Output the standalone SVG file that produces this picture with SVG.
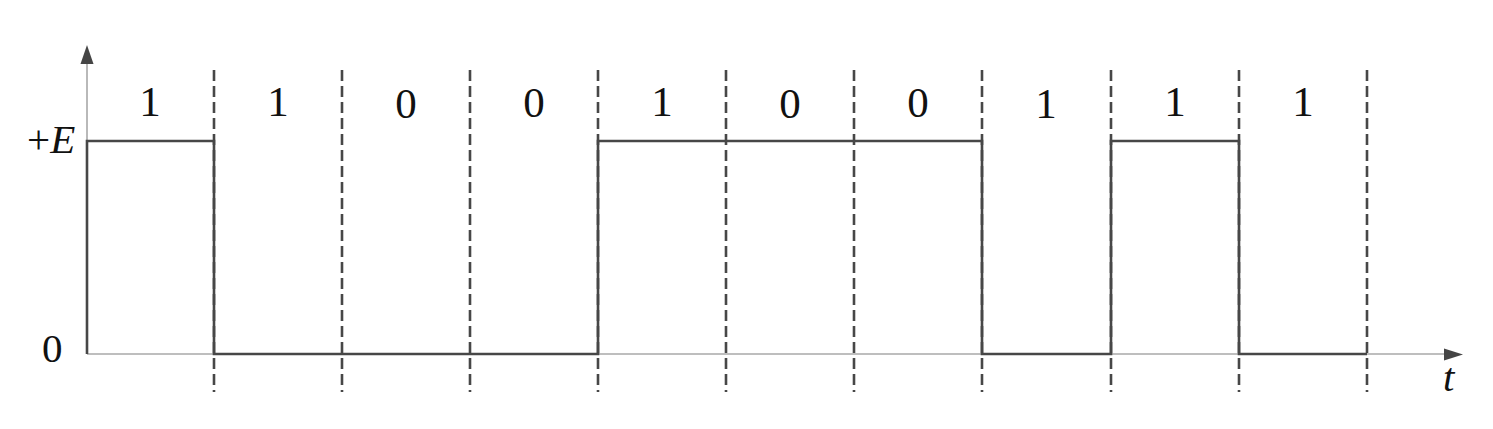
<svg xmlns="http://www.w3.org/2000/svg" width="1493" height="429" viewBox="0 0 1493 429">
<style>
.axis{stroke:#a8a8a8;stroke-width:1.6;fill:none}
.sig{stroke:#474747;stroke-width:2.6;fill:none;stroke-linejoin:miter}
.dash{stroke:#474747;stroke-width:2.6;stroke-dasharray:11 5;fill:none}
.lbl{font-family:"Liberation Serif","Times New Roman",serif;font-size:43px;fill:#111;text-anchor:middle}
.ax{font-family:"Liberation Serif","Times New Roman",serif;font-size:41px;fill:#111}
</style>
<rect width="1493" height="429" fill="#fff"/>
<g id="axes">
<line class="axis" x1="87" y1="354" x2="87" y2="62"/>
<polygon points="87,45 80.5,64 93.5,64" fill="#454545"/>
<line class="axis" x1="87" y1="354" x2="1446" y2="354"/>
<polygon points="1463,354.5 1444,348.5 1444,360.5" fill="#454545"/>
</g>
<g id="connectors">
<line class="dash" x1="214" y1="70" x2="214" y2="392"/>
<line class="dash" x1="342" y1="70" x2="342" y2="392"/>
<line class="dash" x1="470" y1="70" x2="470" y2="392"/>
<line class="dash" x1="598" y1="70" x2="598" y2="392"/>
<line class="dash" x1="726" y1="70" x2="726" y2="392"/>
<line class="dash" x1="854" y1="70" x2="854" y2="392"/>
<line class="dash" x1="982" y1="70" x2="982" y2="392"/>
<line class="dash" x1="1111" y1="70" x2="1111" y2="392"/>
<line class="dash" x1="1239" y1="70" x2="1239" y2="392"/>
<line class="dash" x1="1367" y1="70" x2="1367" y2="392"/>
</g>
<g id="signal">
<polyline class="sig" points="87,354 87,141 214,141 214,354 598,354 598,141 982,141 982,354 1111,354 1111,141 1239,141 1239,354 1367,354"/>
</g>
<g id="bits">
<text class="lbl" x="150" y="116">1</text>
<text class="lbl" x="278" y="116">1</text>
<text class="lbl" x="406" y="118">0</text>
<text class="lbl" x="534" y="117">0</text>
<text class="lbl" x="662" y="116">1</text>
<text class="lbl" x="790" y="118">0</text>
<text class="lbl" x="918" y="117">0</text>
<text class="lbl" x="1046" y="118">1</text>
<text class="lbl" x="1175" y="116">1</text>
<text class="lbl" x="1303" y="116">1</text>
</g>
<g id="axis-labels">
<text class="ax" x="27" y="153">+<tspan font-style="italic">E</tspan></text>
<text class="ax" x="42" y="362">0</text>
<text class="ax" x="1443" y="391" font-style="italic">t</text>
</g>
</svg>
